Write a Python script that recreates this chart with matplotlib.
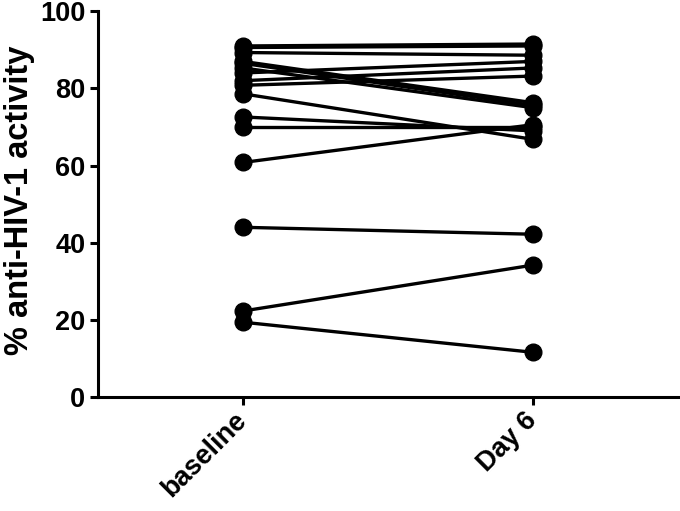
import matplotlib
matplotlib.use("Agg")
import matplotlib.pyplot as plt

plt.rcParams['font.family'] = ['Liberation Sans', 'DejaVu Sans']

categories = ["baseline", "Day 6"]
baseline = [91.0, 90.6, 89.3, 87.0, 86.5, 85.3, 84.0, 82.0, 80.8, 78.6, 72.6, 70.0, 60.8, 44.0, 22.3, 19.4]
day6 =     [91.5, 91.0, 88.6, 76.3, 75.6, 75.0, 87.0, 85.3, 83.2, 66.8, 69.0, 70.0, 70.6, 42.2, 34.2, 11.6]
yticks = [0, 20, 40, 60, 80, 100]

fig = plt.figure(figsize=(6.8, 5.11), dpi=100)
ax = fig.add_axes([0.144, 0.223, 0.853, 0.755])

x = list(range(len(categories)))
for b, d in zip(baseline, day6):
    ax.plot(x, [b, d], color='black', lw=2.4, marker='o', ms=12,
            markerfacecolor='black', markeredgecolor='black', clip_on=False, zorder=3)

ax.set_xlim(-0.5, 1.5)
ax.set_ylim(0, 100)
ax.set_yticks(yticks)
ax.set_xticks(x)
ax.set_xticklabels(categories, rotation=45, ha='right', va='center',
                   rotation_mode='anchor', fontsize=19.5, fontweight='bold')
for lab in ax.get_yticklabels():
    lab.set_fontsize(19.5)
    lab.set_fontweight('bold')
ax.set_ylabel("% anti-HIV-1 activity", fontsize=23.5, fontweight='bold')
ax.yaxis.set_label_coords(-0.108, 0.51)

for s in ['top', 'right']:
    ax.spines[s].set_visible(False)
for s in ['left', 'bottom']:
    ax.spines[s].set_linewidth(2.2)
ax.tick_params(axis='both', direction='out', length=6, width=2.2, pad=3)
ax.tick_params(axis='x', pad=8)

fig.savefig("out.png", dpi=100)
